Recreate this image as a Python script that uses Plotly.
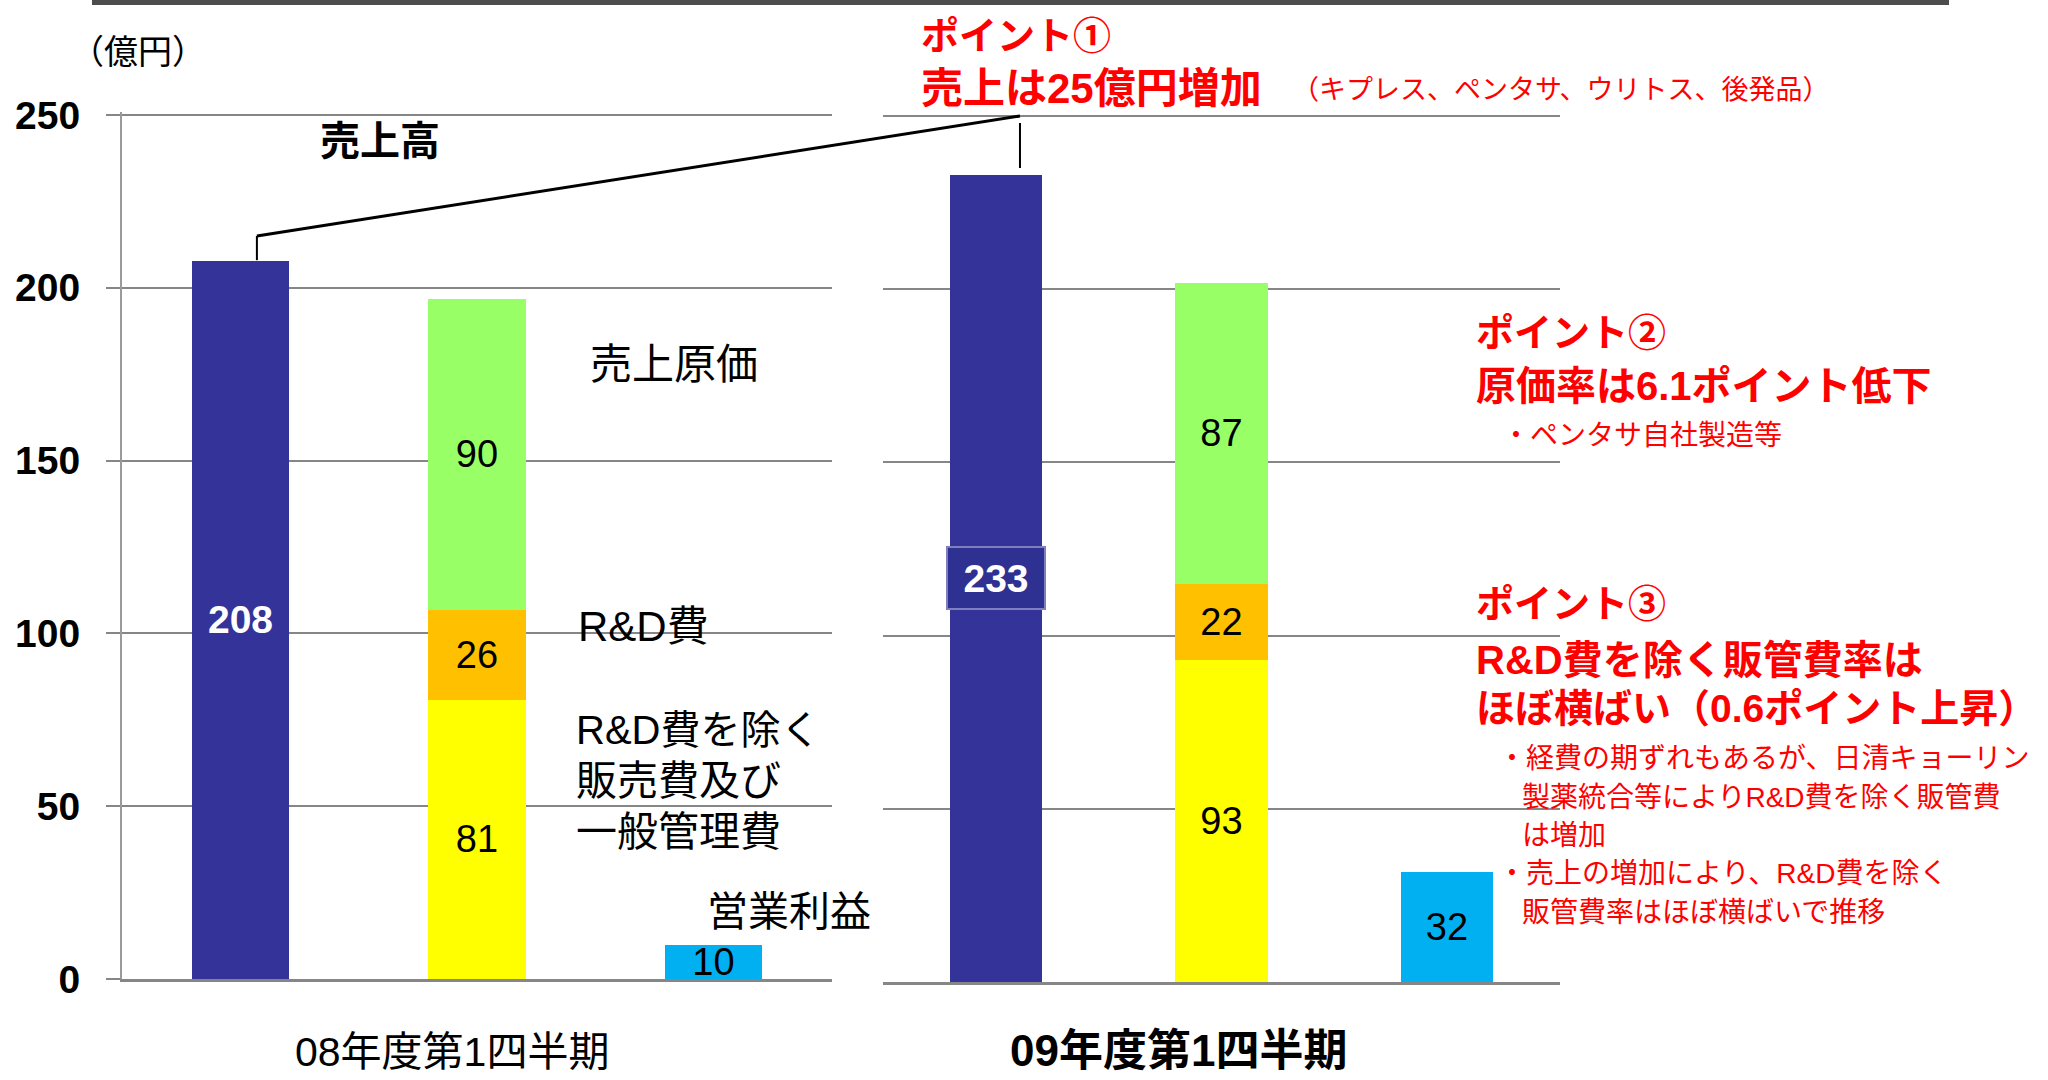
import plotly.graph_objects as go

# ---------------- data ----------------
periods = ["08年度第1四半期", "09年度第1四半期"]
sales = [208, 233]          # 売上高
sga_ex_rd = [81, 93]        # R&D費を除く販売費及び一般管理費
rd_cost = [26, 22]          # R&D費
cogs = [90, 87]             # 売上原価
op_profit = [10, 32]        # 営業利益
y_ticks = [0, 50, 100, 150, 200, 250]

W, H = 2048, 1080
JP = "Liberation Sans, Noto Sans CJK JP, sans-serif"

def px(x):
    return x / W

def py(y):
    return 1 - y / H

# panel geometry (pixels)
Y_MAX = 251
left_dom_x = [px(122), px(832)]
left_dom_y = [py(979), py(979 - Y_MAX * (979 - 115) / 250)]
right_dom_x = [px(883), px(1560)]
right_dom_y = [py(982), py(982 - Y_MAX * (982 - 116) / 250)]
X_RANGE = [-0.5, 2.5]
BW = 0.41

colors = {
    "sales": "#333399",
    "sga": "#FFFF00",
    "rd": "#FFC000",
    "cogs": "#99FF66",
    "op": "#00B0F0",
}

fig = go.Figure()

def add_panel(i, xa, ya, sales_text=True):
    num_font = dict(family="Liberation Sans, Arial", size=38, color="black")
    series = [
        ([sales[i]], 0, colors["sales"],
         dict(family="Liberation Sans, Arial", size=39, color="white", weight="bold")),
        ([sga_ex_rd[i]], 1, colors["sga"], num_font),
        ([rd_cost[i]], 1, colors["rd"], num_font),
        ([cogs[i]], 1, colors["cogs"], num_font),
        ([op_profit[i]], 2, colors["op"], num_font),
    ]
    for k, (vals, xpos, col, tf) in enumerate(series):
        show_text = not (k == 0 and not sales_text)
        fig.add_trace(go.Bar(
            x=[xpos], y=vals, width=BW, marker=dict(color=col, line=dict(width=0)),
            text=[str(v) for v in vals] if show_text else None,
            textposition="inside" if show_text else "none",
            insidetextanchor="middle", constraintext="none",
            textfont=tf, xaxis=xa, yaxis=ya, showlegend=False, hoverinfo="skip",
        ))

add_panel(0, "x", "y")
add_panel(1, "x2", "y2", sales_text=False)

grid = "#868686"
fig.update_layout(
    template="none",
    width=W, height=H, barmode="stack", bargap=0,
    margin=dict(l=0, r=0, t=0, b=0, pad=0, autoexpand=False),
    paper_bgcolor="white", plot_bgcolor="white",
    font=dict(family=JP, color="black"),
    xaxis=dict(domain=left_dom_x, range=X_RANGE, showticklabels=False, showgrid=False, automargin=False,
               zeroline=False, showline=True, linecolor=grid, linewidth=3, anchor="y", ticks=""),
    yaxis=dict(domain=left_dom_y, range=[0, Y_MAX], tickvals=y_ticks, ticktext=[str(v) for v in y_ticks],
               showgrid=True, gridcolor=grid, gridwidth=2, zeroline=False, automargin=False,
               showline=True, linecolor="#9a9a9a", linewidth=2,
               ticks="outside", ticklen=14, tickcolor=grid, tickwidth=2,
               ticklabelstandoff=18,
               tickfont=dict(family="Liberation Sans, Arial", size=39, color="black", weight="bold"), anchor="x"),
    xaxis2=dict(domain=right_dom_x, range=X_RANGE, showticklabels=False, showgrid=False, automargin=False,
                zeroline=False, showline=True, linecolor=grid, linewidth=3, anchor="y2", ticks=""),
    yaxis2=dict(domain=right_dom_y, range=[0, Y_MAX], tickvals=y_ticks, showticklabels=False,
                showgrid=True, gridcolor=grid, gridwidth=2, zeroline=False, showline=False,
                automargin=False, ticks="", anchor="x2"),
)

# ---- helper: data -> paper
def to_paper(xv, yv, dom_x, dom_y):
    fx = dom_x[0] + (xv - X_RANGE[0]) / (X_RANGE[1] - X_RANGE[0]) * (dom_x[1] - dom_x[0])
    fy = dom_y[0] + (yv - 0) / Y_MAX * (dom_y[1] - dom_y[0])
    return fx, fy

# connector lines (sales increase)
lx, ly_top = 0.07, 215
rx, ry_top, ry_bot = 0.107, 250, 235
shapes = [
    dict(type="rect", xref="paper", yref="paper", x0=px(92), x1=px(1949), y0=py(0), y1=py(5),
         fillcolor="#4d4d4d", line=dict(width=0)),
    dict(type="line", xref="x", yref="y", x0=lx, x1=lx, y0=sales[0], y1=ly_top,
         line=dict(color="black", width=2)),
    dict(type="line", xref="x2", yref="y2", x0=rx, x1=rx, y0=ry_bot, y1=ry_top - 2,
         line=dict(color="black", width=2)),
]
p0 = to_paper(lx, ly_top, left_dom_x, left_dom_y)
p1 = to_paper(rx, ry_top, right_dom_x, right_dom_y)
shapes.append(dict(type="line", xref="paper", yref="paper", x0=p0[0], y0=p0[1], x1=p1[0], y1=p1[1],
                   line=dict(color="black", width=3)))
fig.update_layout(shapes=shapes)

ann = []
def text(x, y, s, size, color="black", bold=False, anchor="left"):
    ann.append(dict(xref="paper", yref="paper", x=px(x), y=py(y), text=s, showarrow=False,
                    xanchor=anchor, yanchor="middle",
                    font=dict(family=JP, size=size, color=color, weight="bold" if bold else "normal")))

# boxed value label for the 09 sales bar
ann.append(dict(xref="x2", yref="y2", x=0, y=sales[1] / 2, text=str(sales[1]), showarrow=False,
                xanchor="center", yanchor="middle", width=92, height=56, borderpad=2,
                bgcolor="#2E3192", bordercolor="#7f7fbf", borderwidth=2,
                font=dict(family="Liberation Sans, Arial", size=39, color="white", weight="bold")))

RED = "#FF0000"
text(68, 52, "（億円）", 34)
text(380, 141, "売上高", 40, bold=True, anchor="center")
text(588, 364, "売上原価", 42)
text(576, 626, "R&D費", 42)
text(574, 730, "R&D費を除く", 40)
text(574, 781, "販売費及び", 41)
text(574, 832, "一般管理費", 41)
text(705, 912, "営業利益", 41)
text(452, 1052, periods[0], 41, anchor="center")
text(1178, 1050, periods[1], 44, bold=True, anchor="center")

text(919, 36, "ポイント①", 38, RED, True)
text(919, 88, "売上は25億円増加", 42, RED, True)
text(1290, 90, "（キプレス、ペンタサ、ウリトス、後発品）", 27, RED)

text(1474, 333, "ポイント②", 38, RED, True)
text(1474, 386, "原価率は6.1ポイント低下", 40, RED, True)
text(1500, 435, "・ペンタサ自社製造等", 28, RED)

text(1474, 604, "ポイント③", 38, RED, True)
text(1474, 660, "R&D費を除く販管費率は", 40, RED, True)
text(1474, 708, "ほぼ横ばい（0.6ポイント上昇）", 39, RED, True)
text(1496, 758, "・経費の期ずれもあるが、日清キョーリン", 28, RED)
text(1520, 797, "製薬統合等によりR&D費を除く販管費", 28, RED)
text(1520, 835, "は増加", 28, RED)
text(1496, 873, "・売上の増加により、R&D費を除く", 28, RED)
text(1520, 912, "販管費率はほぼ横ばいで推移", 28, RED)

fig.update_layout(annotations=ann)
fig.write_html("out.html", config={"displayModeBar": False},
               post_script="document.body.style.margin='0';document.body.style.overflow='hidden';")
